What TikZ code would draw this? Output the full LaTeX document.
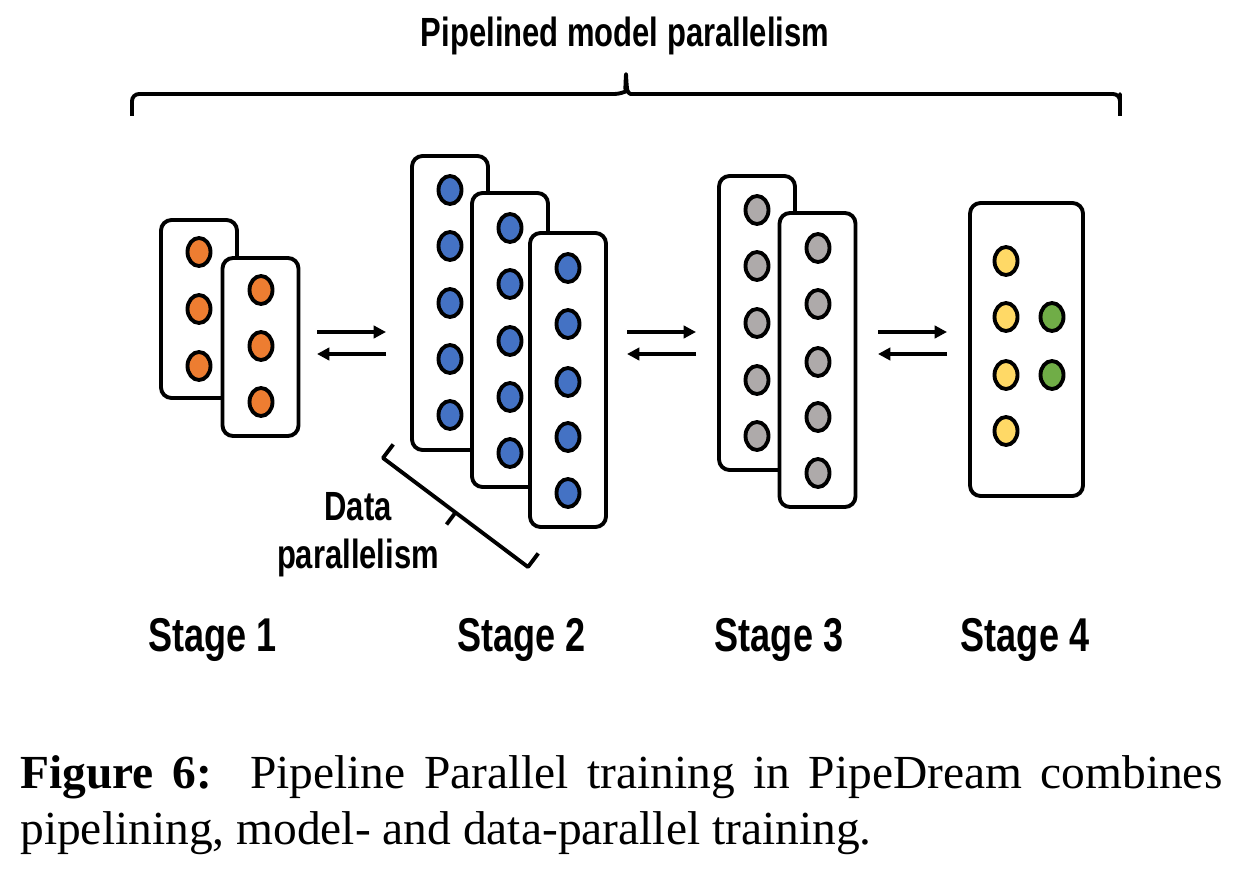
\documentclass[tikz,border=0pt]{standalone}
\usepackage{fontspec}
\newfontfamily\labelfont[FakeStretch=0.76]{Liberation Sans}
\newfontfamily\captionfont{Liberation Serif}
\usetikzlibrary{
    shapes.geometric,
    arrows.meta,
    positioning,
    calc
}
\definecolor{colorStageOne}{RGB}{237, 125, 49}
\definecolor{colorStageTwo}{RGB}{68, 114, 196}
\definecolor{colorStageThree}{RGB}{174, 170, 170}
\definecolor{colorYellow}{RGB}{255, 217, 102}
\definecolor{colorGreen}{RGB}{112, 173, 71}
\tikzset{
    layerBox/.style={
        rectangle, rounded corners=6pt,
        draw=black, line width=2.2pt, fill=white,
        minimum width=1.52cm, minimum height=5.88cm
    },
    layerBoxShort/.style={
        layerBox, minimum height=3.56cm
    },
    layerBoxWide/.style={
        layerBox, minimum width=2.26cm, minimum height=5.86cm
    },
    neuron/.style={
        ellipse, draw=black, line width=2.2pt,
        minimum width=0.46cm, minimum height=0.56cm, inner sep=0pt
    },
    flowArrow/.style={
        -{Triangle[length=7pt,width=7pt]},
        line width=2.2pt, color=black
    },
    bracketLine/.style={
        line width=2.2pt, color=black
    },
    stageLabel/.style={
        font=\labelfont\bfseries\fontsize{27}{32}\selectfont,
        anchor=base, inner sep=0pt
    },
    groupLabel/.style={
        font=\labelfont\bfseries\fontsize{23.2}{27.5}\selectfont,
        align=center, inner sep=0pt
    },
}

\begin{document}
\begin{tikzpicture}[x=1cm, y=1cm]

    \useasboundingbox (0,0) rectangle (24.66,-17.5);

    % ----------------------------------------------------------
    % STAGE 1 -- two replicas
    % ----------------------------------------------------------
    \node[layerBoxShort] at (3.98, -6.18) (stageOneA) {};
    \node[neuron, fill=colorStageOne] at (3.98, -5.04) (oneA1) {};
    \node[neuron, fill=colorStageOne] at (3.98, -6.18) (oneA2) {};
    \node[neuron, fill=colorStageOne] at (3.98, -7.32) (oneA3) {};

    \node[layerBoxShort] at (5.21, -6.94) (stageOneB) {};
    \node[neuron, fill=colorStageOne] at (5.22, -5.80) (oneB1) {};
    \node[neuron, fill=colorStageOne] at (5.22, -6.92) (oneB2) {};
    \node[neuron, fill=colorStageOne] at (5.22, -8.04) (oneB3) {};

    % ----------------------------------------------------------
    % STAGE 2 -- three replicas
    % ----------------------------------------------------------
    \node[layerBox] at (9.00, -6.06) (stageTwoA) {};
    \node[neuron, fill=colorStageTwo] at (9.00, -3.80) (twoA1) {};
    \node[neuron, fill=colorStageTwo] at (9.00, -4.92) (twoA2) {};
    \node[neuron, fill=colorStageTwo] at (9.00, -6.06) (twoA3) {};
    \node[neuron, fill=colorStageTwo] at (9.00, -7.18) (twoA4) {};
    \node[neuron, fill=colorStageTwo] at (9.00, -8.30) (twoA5) {};

    \node[layerBox] at (10.20, -6.80) (stageTwoB) {};
    \node[neuron, fill=colorStageTwo] at (10.20, -4.56) (twoB1) {};
    \node[neuron, fill=colorStageTwo] at (10.20, -5.68) (twoB2) {};
    \node[neuron, fill=colorStageTwo] at (10.20, -6.82) (twoB3) {};
    \node[neuron, fill=colorStageTwo] at (10.20, -7.94) (twoB4) {};
    \node[neuron, fill=colorStageTwo] at (10.20, -9.06) (twoB5) {};

    \node[layerBox] at (11.36, -7.60) (stageTwoC) {};
    \node[neuron, fill=colorStageTwo] at (11.36, -5.36) (twoC1) {};
    \node[neuron, fill=colorStageTwo] at (11.36, -6.48) (twoC2) {};
    \node[neuron, fill=colorStageTwo] at (11.36, -7.64) (twoC3) {};
    \node[neuron, fill=colorStageTwo] at (11.36, -8.74) (twoC4) {};
    \node[neuron, fill=colorStageTwo] at (11.36, -9.86) (twoC5) {};

    % ----------------------------------------------------------
    % STAGE 3 -- two replicas
    % ----------------------------------------------------------
    \node[layerBox] at (15.14, -6.46) (stageThreeA) {};
    \node[neuron, fill=colorStageThree] at (15.14, -4.20) (threeA1) {};
    \node[neuron, fill=colorStageThree] at (15.14, -5.32) (threeA2) {};
    \node[neuron, fill=colorStageThree] at (15.14, -6.46) (threeA3) {};
    \node[neuron, fill=colorStageThree] at (15.14, -7.60) (threeA4) {};
    \node[neuron, fill=colorStageThree] at (15.14, -8.72) (threeA5) {};

    \node[layerBox] at (16.35, -7.20) (stageThreeB) {};
    \node[neuron, fill=colorStageThree] at (16.36, -4.96) (threeB1) {};
    \node[neuron, fill=colorStageThree] at (16.36, -6.08) (threeB2) {};
    \node[neuron, fill=colorStageThree] at (16.36, -7.24) (threeB3) {};
    \node[neuron, fill=colorStageThree] at (16.36, -8.34) (threeB4) {};
    \node[neuron, fill=colorStageThree] at (16.36, -9.46) (threeB5) {};

    % ----------------------------------------------------------
    % STAGE 4 -- single box
    % ----------------------------------------------------------
    \node[layerBoxWide] at (20.53, -6.99) (stageFour) {};
    \node[neuron, fill=colorYellow] at (20.12, -5.22) (fourY1) {};
    \node[neuron, fill=colorYellow] at (20.12, -6.34) (fourY2) {};
    \node[neuron, fill=colorYellow] at (20.12, -7.50) (fourY3) {};
    \node[neuron, fill=colorYellow] at (20.12, -8.62) (fourY4) {};
    \node[neuron, fill=colorGreen]  at (21.04, -6.34) (fourG1) {};
    \node[neuron, fill=colorGreen]  at (21.04, -7.50) (fourG2) {};

    % ----------------------------------------------------------
    % FORWARD / BACKWARD ARROWS
    % ----------------------------------------------------------
    \coordinate (gapOneTwo)    at ( 7.03, -6.87);
    \coordinate (gapTwoThree)  at (13.23, -6.87);
    \coordinate (gapThreeFour) at (18.25, -6.87);

    \draw[flowArrow] ([xshift=-0.69cm, yshift=0.23cm]gapOneTwo)
        -- ([xshift=0.69cm, yshift=0.23cm]gapOneTwo);
    \draw[flowArrow] ([xshift=0.69cm, yshift=-0.21cm]gapOneTwo)
        -- ([xshift=-0.69cm, yshift=-0.21cm]gapOneTwo);

    \draw[flowArrow] ([xshift=-0.69cm, yshift=0.23cm]gapTwoThree)
        -- ([xshift=0.69cm, yshift=0.23cm]gapTwoThree);
    \draw[flowArrow] ([xshift=0.69cm, yshift=-0.21cm]gapTwoThree)
        -- ([xshift=-0.69cm, yshift=-0.21cm]gapTwoThree);

    \draw[flowArrow] ([xshift=-0.69cm, yshift=0.23cm]gapThreeFour)
        -- ([xshift=0.69cm, yshift=0.23cm]gapThreeFour);
    \draw[flowArrow] ([xshift=0.69cm, yshift=-0.21cm]gapThreeFour)
        -- ([xshift=-0.69cm, yshift=-0.21cm]gapThreeFour);

    % ----------------------------------------------------------
    % BRACES + LABELS
    % ----------------------------------------------------------
    \coordinate (braceLeft)  at ( 2.64, -2.32);
    \coordinate (braceRight) at (22.40, -2.32);
    \coordinate (braceTip)   at (12.52, -1.48);
    \draw[bracketLine, line join=round]
        (braceLeft) -- ++(0, 0.30)
        [rounded corners=4pt] |- ($(braceTip) + (-0.09, -0.40)$)
        [sharp corners] .. controls ($(braceTip) + (-0.02, -0.36)$) .. (braceTip)
        .. controls ($(braceTip) + (0.02, -0.36)$) .. ($(braceTip) + (0.09, -0.40)$)
        [rounded corners=4pt] -| ($(braceRight) + (0, 0.30)$)
        [sharp corners] -- (braceRight);
    \node[stageLabel, font=\labelfont\bfseries\fontsize{23.2}{27.5}\selectfont]
        at (12.50, -0.94) (titleModel) {Pipelined model parallelism};

    % data parallelism bracket (tilted)
    \coordinate (dataTop) at ( 7.66,  -9.16);
    \coordinate (dataBot) at (10.56, -11.34);
    \coordinate (dataMid) at ($(dataTop)!0.5!(dataBot)$);
    \draw[bracketLine, line join=round]
        ($(dataTop)!0.34cm!90:(dataBot)$) -- (dataTop)
        -- (dataBot) -- ($(dataBot)!0.34cm!-90:(dataTop)$);
    \draw[bracketLine] (dataMid) -- ($(dataMid)!0.3cm!-90:(dataBot)$);
    \node[groupLabel] at (7.16, -10.70) (dataLabel) {Data\\parallelism};

    % ----------------------------------------------------------
    % STAGE LABELS
    % ----------------------------------------------------------
    \node[stageLabel] at ( 4.25, -13.02) (labelOne)   {Stage 1};
    \node[stageLabel] at (10.43, -13.02) (labelTwo)   {Stage 2};
    \node[stageLabel] at (15.58, -13.02) (labelThree) {Stage 3};
    \node[stageLabel] at (20.50, -13.02) (labelFour)  {Stage 4};

    % ----------------------------------------------------------
    % CAPTION
    % ----------------------------------------------------------
    \node[anchor=base west, inner sep=0pt, text width=24.04cm, align=justify,
          font=\captionfont\fontsize{27}{32}\selectfont]
        at (0.40, -15.76) (caption)
        {\hyphenpenalty=10000\textbf{Figure 6:}\hspace{0.2em} Pipeline Parallel
         training in PipeDream combines\linebreak pipelining, model- and
         data-parallel training.};

\end{tikzpicture}
\end{document}
